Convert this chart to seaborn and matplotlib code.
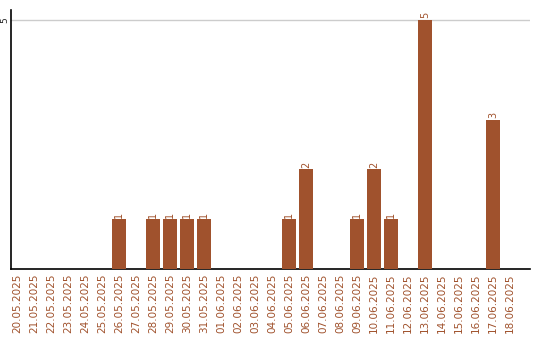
import matplotlib
matplotlib.use("Agg")
import matplotlib.pyplot as plt
import seaborn as sns
import pandas as pd

dates = ["20.05.2025", "21.05.2025", "22.05.2025", "23.05.2025", "24.05.2025",
         "25.05.2025", "26.05.2025", "27.05.2025", "28.05.2025", "29.05.2025",
         "30.05.2025", "31.05.2025", "01.06.2025", "02.06.2025", "03.06.2025",
         "04.06.2025", "05.06.2025", "06.06.2025", "07.06.2025", "08.06.2025",
         "09.06.2025", "10.06.2025", "11.06.2025", "12.06.2025", "13.06.2025",
         "14.06.2025", "15.06.2025", "16.06.2025", "17.06.2025", "18.06.2025"]
counts = [0, 0, 0, 0, 0, 0, 1, 0, 1, 1, 1, 1, 0, 0, 0, 0, 1, 2, 0, 0,
          1, 2, 1, 0, 5, 0, 0, 0, 3, 0]

df = pd.DataFrame({"date": dates, "count": counts})
brown = "#A0522D"

sns.set_style("white")
plt.rcParams['font.family'] = ['DejaVu Sans']
fig = plt.figure(figsize=(5.4, 3.4), dpi=100)
ax = fig.add_axes([11/540, 1-269/340, (530-11)/540, (269-10)/340])
sns.barplot(data=df, x="date", y="count", color=brown, width=0.82,
            saturation=1, linewidth=0, ax=ax, zorder=3)

ax.set_xlim(-0.35, 30.18)
ax.set_ylim(0, 5.2)
ax.set_yticks([5])
ax.set_yticklabels(["5"], rotation=90, va="center", fontsize=6.5)
ax.yaxis.grid(True, color="#cccccc", linewidth=1, zorder=0)
ax.tick_params(axis="y", length=0, pad=1)
ax.tick_params(axis="x", length=0, pad=3)
ax.set_xticks(range(len(dates)))
ax.set_xticklabels(dates, rotation=90, fontsize=7.5, color=brown)
ax.set_xlabel("")
ax.set_ylabel("")
for s in ["top", "right"]:
    ax.spines[s].set_visible(False)
for s in ["left", "bottom"]:
    ax.spines[s].set_color("black")
    ax.spines[s].set_linewidth(1.2)

for i, v in enumerate(counts):
    if v > 0:
        ax.text(i, v + 0.03, str(v), rotation=90, ha="center", va="bottom",
                fontsize=7, color=brown)

fig.savefig("out.png", dpi=100)
